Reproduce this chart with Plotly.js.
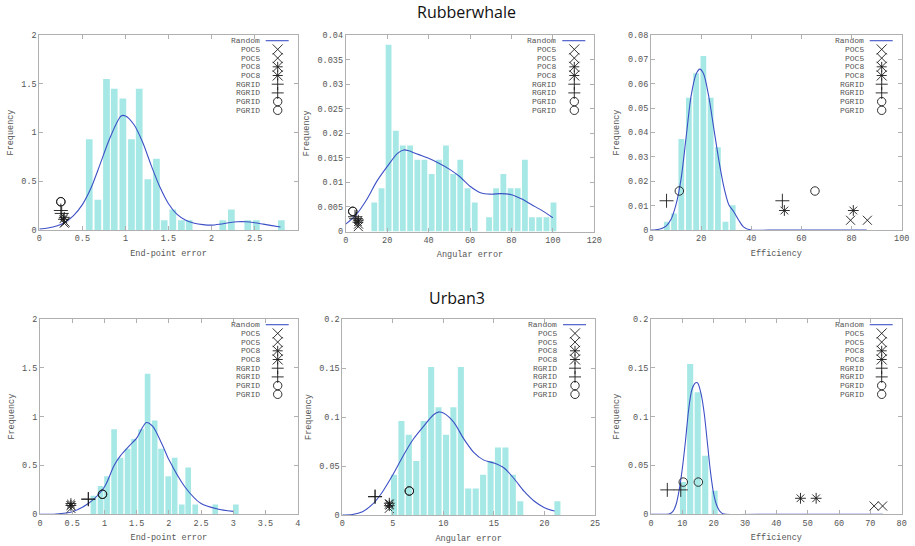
<!DOCTYPE html>
<html>
<head>
<meta charset="utf-8">
<script src="https://cdn.plot.ly/plotly-3.0.1.min.js"></script>
<style>html,body{margin:0;padding:0;background:#fff;}#chart{width:915px;height:546px;}</style>
</head>
<body>
<div id="chart"></div>
<script>
// ---------- DATA ----------
// Legend entries
const legendLabels = ['Random','POC5','POC5','POC8','POC8','RGRID','RGRID','PGRID','PGRID'];
const panelTitles = ['Rubberwhale','Urban3'];

// Panel 1: Rubberwhale, End-point error
const rwEpeBinX = [0.58,0.68,0.78,0.87,0.97,1.07,1.16,1.26,1.36,1.45,1.55,1.65,1.74,2.13,2.23,2.42,2.52,2.81];
const rwEpeFreq = [0.93,0.31,1.55,1.45,1.35,0.93,1.45,0.52,0.73,0.10,0.21,0.10,0.10,0.10,0.21,0.10,0.10,0.10];
const rwEpeRandX = [0,0.1,0.2,0.3,0.4,0.5,0.6,0.7,0.8,0.9,0.95,1.0,1.1,1.2,1.3,1.4,1.5,1.6,1.7,1.8,1.9,2.0,2.1,2.2,2.3,2.4,2.5,2.6,2.7,2.8];
const rwEpeRandY = [0.01,0.02,0.04,0.08,0.15,0.26,0.43,0.66,0.90,1.10,1.17,1.17,1.08,0.90,0.66,0.44,0.27,0.16,0.10,0.07,0.055,0.05,0.06,0.075,0.085,0.085,0.075,0.06,0.045,0.03];
const rwEpePOC5 = {x:[0.29,0.30], y:[0.07,0.08]};
const rwEpePOC8 = {x:[0.29,0.28], y:[0.13,0.11]};
const rwEpeRGRID = {x:[0.25,0.26], y:[0.20,0.17]};
const rwEpePGRID = {x:[0.25,0.25], y:[0.29,0.29]};

// Panel 2: Rubberwhale, Angular error
const rwAeBinX = [13.8,17.3,20.7,24.2,27.6,31.1,34.6,38.0,41.5,45.0,48.4,51.9,55.3,58.8,62.3,69.2,72.6,76.1,79.6,83.0,86.5,89.9,93.4,96.9,100.3];
const rwAeFreq = [0.0059,0.0088,0.038,0.0205,0.0175,0.0175,0.0146,0.0146,0.0117,0.0146,0.0175,0.0117,0.0146,0.0088,0.0059,0.0029,0.0088,0.0117,0.0088,0.0088,0.0146,0.0029,0.0029,0.0029,0.0059];
const rwAeRandX = [0,5,10,15,20,25,28,30,35,40,45,50,55,60,65,70,75,80,85,90,95,100];
const rwAeRandY = [0.0015,0.0034,0.0064,0.0102,0.0132,0.0159,0.0166,0.0165,0.0157,0.0149,0.0139,0.0127,0.0112,0.0092,0.0079,0.0076,0.0077,0.0075,0.0066,0.0054,0.0042,0.0028];
const rwAePOC5 = {x:[6.1,6.2], y:[0.0010,0.0015]};
const rwAePOC8 = {x:[6.1,5.9], y:[0.0023,0.0019]};
const rwAeRGRID = {x:[4.5,5.0], y:[0.0030,0.0026]};
const rwAePGRID = {x:[3.4,3.4], y:[0.0041,0.0041]};

// Panel 3: Rubberwhale, Efficiency
const rwEffBinX = [6.3,9.2,12.1,15.1,18.0,20.9,23.8,26.7,29.7,32.6];
const rwEffFreq = [0.0034,0.0068,0.0373,0.0543,0.0643,0.0714,0.0543,0.034,0.0034,0.0102];
const rwEffRandX = [0,2,4,6,8,10,12,14,16,18,19.5,21,23,25,27,29,31,33,35,37,40,50,60,70,80,86];
const rwEffRandY = [0,0.0001,0.0005,0.0016,0.0044,0.0105,0.021,0.038,0.055,0.064,0.066,0.064,0.055,0.042,0.029,0.018,0.0105,0.0075,0.004,0.0012,0,0,0,0,0,0];
const rwEffPOC5 = {x:[79.6,86.3], y:[0.004,0.004]};
const rwEffPOC8 = {x:[53.2,80.7], y:[0.008,0.008]};
const rwEffRGRID = {x:[6.2,52.4], y:[0.012,0.012]};
const rwEffPGRID = {x:[11.3,65.4], y:[0.016,0.016]};

// Panel 4: Urban3, End-point error
const urEpeBinX = [0.83,0.94,1.04,1.15,1.25,1.36,1.46,1.57,1.67,1.78,1.88,1.99,2.09,2.20,2.30,2.41,2.72,3.04];
const urEpeFreq = [0.19,0.29,0.39,0.87,0.58,0.67,0.77,0.87,1.44,0.96,0.67,0.39,0.58,0.10,0.48,0.10,0.10,0.10];
const urEpeRandX = [0,0.25,0.5,0.75,1.0,1.15,1.25,1.4,1.5,1.65,1.75,1.9,2.0,2.25,2.5,2.75,3.0];
const urEpeRandY = [0,0.003,0.027,0.11,0.28,0.50,0.60,0.71,0.78,0.94,0.90,0.71,0.56,0.28,0.11,0.055,0.03];
const urEpePOC5 = {x:[0.48,0.48], y:[0.06,0.09]};
const urEpePOC8 = {x:[0.48,0.48], y:[0.11,0.09]};
const urEpeRGRID = {x:[0.75,0.75], y:[0.155,0.155]};
const urEpePGRID = {x:[0.97,0.97], y:[0.205,0.205]};

// Panel 5: Urban3, Angular error
const urAeBinX = [5.11,5.85,6.58,7.32,8.05,8.79,9.52,10.26,10.99,11.73,12.46,13.20,13.93,14.67,15.40,16.14,16.87,17.61,21.28];
const urAeFreq = [0.041,0.096,0.082,0.055,0.096,0.151,0.110,0.082,0.110,0.151,0.027,0.027,0.041,0.055,0.069,0.069,0.041,0.014,0.014];
const urAeRandX = [0,1,2,3,4,5,6,7,8,9,9.5,10,11,12,13,14,15,16,17,18,19,20,21];
const urAeRandY = [0,0.0005,0.0034,0.011,0.024,0.041,0.06,0.077,0.09,0.102,0.105,0.104,0.095,0.078,0.064,0.056,0.053,0.048,0.037,0.024,0.014,0.0075,0.004];
const urAePOC5 = {x:[4.65,4.65], y:[0.0068,0.011]};
const urAePOC8 = {x:[4.65,4.65], y:[0.012,0.0095]};
const urAeRGRID = {x:[3.24,3.24], y:[0.0187,0.0187]};
const urAePGRID = {x:[6.63,6.63], y:[0.0245,0.0245]};

// Panel 6: Urban3, Efficiency
const urEffBinX = [10.2,12.5,14.9,17.3,20.3];
const urEffFreq = [0.033,0.154,0.125,0.06,0.024];
const urEffRandX = [0,5,6,7,8,9,10,11,12,13,14,14.6,15,16,17,18,19,20,21,22,23,24,40,60,74];
const urEffRandY = [0,0,0.0005,0.003,0.01,0.025,0.047,0.075,0.107,0.127,0.134,0.135,0.134,0.123,0.103,0.073,0.043,0.021,0.009,0.003,0.0005,0,0,0,0];
const urEffPOC5 = {x:[71.2,73.9], y:[0.0085,0.0085]};
const urEffPOC8 = {x:[47.7,52.7], y:[0.0164,0.0164]};
const urEffRGRID = {x:[5.2,9.5], y:[0.025,0.025]};
const urEffPGRID = {x:[10.3,15.1], y:[0.033,0.033]};

// ---------- LAYOUT / STYLE ----------
const W = 915, H = 546;
const MONO = 'Liberation Mono, DejaVu Sans Mono, monospace';
const BAR_COLOR = '#a6e8e5';
const LINE_COLOR = '#3d50c6';
const AXIS_COLOR = '#b0b0b0';
const TEXT_COLOR = '#555';
const MARK_COLOR = '#1a1a1a';

// pixel boxes of each plot area: [left, right, top, bottom]
const panels = [
  {box:[39.3,297.7,35,230], xr:[0,3], yr:[0,2], xd:0.5, yd:0.5, xt:'End-point error',
   bins:[rwEpeBinX,rwEpeFreq], bw:0.078, rand:[rwEpeRandX,rwEpeRandY], pts:[rwEpePOC5,rwEpePOC8,rwEpeRGRID,rwEpePGRID], hideLast:true},
  {box:[345.7,594.3,35,231.5], xr:[0,120], yr:[0,0.04], xd:20, yd:0.005, xt:'Angular error',
   bins:[rwAeBinX,rwAeFreq], bw:2.8, rand:[rwAeRandX,rwAeRandY], pts:[rwAePOC5,rwAePOC8,rwAeRGRID,rwAePGRID]},
  {box:[651,901.7,35,230], xr:[0,100], yr:[0,0.08], xd:20, yd:0.01, xt:'Efficiency',
   bins:[rwEffBinX,rwEffFreq], bw:2.3, rand:[rwEffRandX,rwEffRandY], pts:[rwEffPOC5,rwEffPOC8,rwEffRGRID,rwEffPGRID]},
  {box:[40,297.7,319,514.3], xr:[0,4], yr:[0,2], xd:0.5, yd:0.5, xt:'End-point error',
   bins:[urEpeBinX,urEpeFreq], bw:0.088, rand:[urEpeRandX,urEpeRandY], pts:[urEpePOC5,urEpePOC8,urEpeRGRID,urEpePGRID]},
  {box:[342.3,595,319,515], xr:[0,25], yr:[0,0.2], xd:5, yd:0.05, xt:'Angular error',
   bins:[urAeBinX,urAeFreq], bw:0.6, rand:[urAeRandX,urAeRandY], pts:[urAePOC5,urAePOC8,urAeRGRID,urAePGRID]},
  {box:[651,901.7,319,514.3], xr:[0,80], yr:[0,0.2], xd:10, yd:0.05, xt:'Efficiency',
   bins:[urEffBinX,urEffFreq], bw:1.95, rand:[urEffRandX,urEffRandY], pts:[urEffPOC5,urEffPOC8,urEffRGRID,urEffPGRID]}
];

const markerStyles = [
  {symbol:'x-thin-open', size:9},
  {symbol:'asterisk-open', size:9},
  {symbol:'cross-thin-open', size:10},
  {symbol:'circle-open', size:8.5}
];

const traces = [];
const layout = {
  width: W, height: H,
  margin: {l:0, r:0, t:0, b:0, pad:0},
  paper_bgcolor: '#fff', plot_bgcolor: '#fff',
  showlegend: false,
  font: {family: MONO, size: 8.5, color: TEXT_COLOR},
  shapes: [], annotations: []
};

panels.forEach((p, i) => {
  const n = i + 1;
  const xa = n === 1 ? 'x' : 'x' + n;
  const ya = n === 1 ? 'y' : 'y' + n;
  const xKey = n === 1 ? 'xaxis' : 'xaxis' + n;
  const yKey = n === 1 ? 'yaxis' : 'yaxis' + n;
  const [l, r, t, b] = p.box;

  const common = {
    showgrid: false, zeroline: false, showline: true, linecolor: AXIS_COLOR, linewidth: 1,
    mirror: 'ticks', ticks: 'inside', ticklen: 4, tickcolor: AXIS_COLOR, tickwidth: 1,
    tickfont: {family: MONO, size: 8.5, color: TEXT_COLOR}, fixedrange: true, tick0: 0
  };
  layout[xKey] = Object.assign({}, common, {
    anchor: ya, domain: [l / W, r / W], range: p.xr, dtick: p.xd,
    title: {text: p.xt, font: {family: MONO, size: 8.5, color: TEXT_COLOR}, standoff: 6}
  });
  if (p.hideLast) {
    layout[xKey].tickmode = 'array';
    layout[xKey].tickvals = [0, 0.5, 1, 1.5, 2, 2.5, 3];
    layout[xKey].ticktext = ['0', '0.5', '1', '1.5', '2', '2.5', ''];
  }
  layout[yKey] = Object.assign({}, common, {
    anchor: xa, domain: [1 - b / H, 1 - t / H], range: p.yr, dtick: p.yd,
    title: {text: 'Frequency', font: {family: MONO, size: 8.5, color: TEXT_COLOR}, standoff: 6}
  });

  traces.push({
    type: 'bar', x: p.bins[0], y: p.bins[1], width: p.bw, xaxis: xa, yaxis: ya,
    marker: {color: BAR_COLOR, line: {width: 0}}, hoverinfo: 'skip'
  });
  traces.push({
    type: 'scatter', mode: 'lines', x: p.rand[0], y: p.rand[1], xaxis: xa, yaxis: ya,
    line: {color: LINE_COLOR, width: 1.1, shape: 'spline', smoothing: 0.8}, name: 'Random'
  });
  p.pts.forEach((s, k) => {
    traces.push({
      type: 'scatter', mode: 'markers', x: s.x, y: s.y, xaxis: xa, yaxis: ya, cliponaxis: false,
      marker: {symbol: markerStyles[k].symbol, size: markerStyles[k].size, color: MARK_COLOR,
               line: {color: MARK_COLOR, width: 0.9}},
      name: legendLabels[1 + 2 * k]
    });
  });

  // manual gnuplot-style key: text left, symbol right
  const xref = xa + ' domain', yref = ya + ' domain';
  legendLabels.forEach((lab, j) => {
    const cy = -(5.7 + j * 8.7);
    layout.annotations.push({
      xref: xref, yref: yref, x: 1, y: 1, xshift: -37, yshift: cy,
      xanchor: 'right', yanchor: 'middle', showarrow: false, text: lab, borderpad: 0,
      font: {family: MONO, size: 8, color: TEXT_COLOR}
    });
    const base = {xref: xref, yref: yref, xsizemode: 'pixel', ysizemode: 'pixel', xanchor: 1, yanchor: 1,
                  line: {color: MARK_COLOR, width: 0.9}};
    const cx = -20, s = 5;
    if (j === 0) {
      layout.shapes.push(Object.assign({}, base, {type: 'line', x0: -32, x1: -9, y0: cy, y1: cy,
        line: {color: LINE_COLOR, width: 1.1}}));
    } else if (j <= 2) {
      layout.shapes.push(Object.assign({}, base, {type: 'path',
        path: `M${cx - s},${cy - s}L${cx + s},${cy + s}M${cx - s},${cy + s}L${cx + s},${cy - s}`}));
    } else if (j <= 4) {
      layout.shapes.push(Object.assign({}, base, {type: 'path',
        path: `M${cx - s},${cy - s}L${cx + s},${cy + s}M${cx - s},${cy + s}L${cx + s},${cy - s}M${cx - s},${cy}L${cx + s},${cy}M${cx},${cy - s}L${cx},${cy + s}`}));
    } else if (j <= 6) {
      layout.shapes.push(Object.assign({}, base, {type: 'path',
        path: `M${cx - s - 1},${cy}L${cx + s + 1},${cy}M${cx},${cy - s - 1}L${cx},${cy + s + 1}`}));
    } else {
      layout.shapes.push(Object.assign({}, base, {type: 'circle', x0: cx - 4.2, x1: cx + 4.2, y0: cy - 4.2, y1: cy + 4.2}));
    }
  });
});

// section titles
layout.annotations.push({xref: 'paper', yref: 'paper', x: 467 / W, y: 1 - 11.5 / H, xanchor: 'center', yanchor: 'middle',
  showarrow: false, text: panelTitles[0], font: {family: 'Open Sans, Noto Sans, sans-serif', size: 16, color: '#111'}});
layout.annotations.push({xref: 'paper', yref: 'paper', x: 457 / W, y: 1 - 298 / H, xanchor: 'center', yanchor: 'middle',
  showarrow: false, text: panelTitles[1], font: {family: 'Open Sans, Noto Sans, sans-serif', size: 16, color: '#111'}});

Plotly.newPlot('chart', traces, layout, {staticPlot: true, displayModeBar: false});
</script>
</body>
</html>
